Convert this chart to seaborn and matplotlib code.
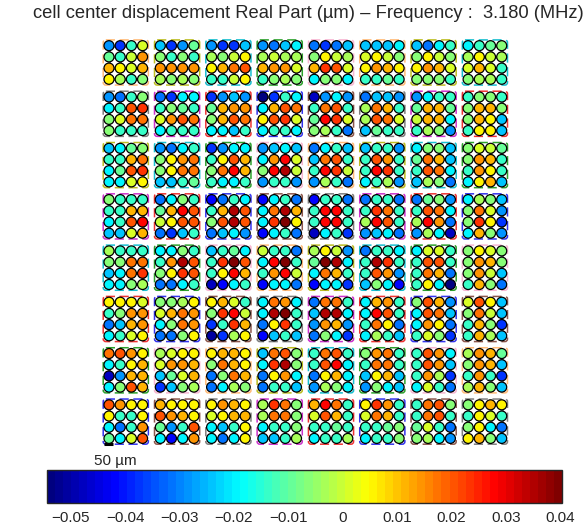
import numpy as np
import pandas as pd
import matplotlib
matplotlib.use('Agg')
import matplotlib.pyplot as plt
import seaborn as sns
from matplotlib.patches import FancyBboxPatch
from matplotlib.colors import LinearSegmentedColormap

# cell center displacement, one band per block row (4 cell rows x 32 cells)
band0 = [
    [-0.028,-0.037,-0.013,0.001, -0.024,-0.037,-0.028,-0.009, -0.028,-0.037,-0.037,-0.024, -0.028,-0.031,-0.024,-0.020, -0.031,-0.037,-0.031,-0.024, -0.024,-0.024,-0.024,-0.020, -0.024,-0.031,-0.020,-0.013, -0.020,-0.014,-0.009,-0.007],
    [-0.009,-0.014,-0.001,0.014, -0.007,-0.013,-0.007,-0.013, -0.003,-0.006,-0.001,0.005, -0.003,-0.001,-0.003,-0.003, -0.006,0.005,-0.001,-0.003, 0.001,0.005,-0.001,-0.006, -0.006,0.005,-0.001,-0.006, -0.003,0.005,-0.001,-0.003],
    [0.011,0.005,0.001,0.011, 0.014,0.014,0.014,0.014, 0.005,0.011,0.017,0.020, 0.011,0.014,0.014,0.001, 0.011,0.023,0.020,0.001, 0.005,0.014,0.011,0.005, 0.005,0.014,0.011,0.001, 0.001,0.011,0.001,-0.013],
    [0.005,-0.003,-0.013,-0.007, -0.003,-0.006,-0.003,-0.006, -0.013,-0.014,-0.001,0.005, -0.013,-0.007,-0.003,-0.007, -0.020,-0.007,-0.006,-0.020, -0.014,-0.013,-0.009,-0.013, -0.007,-0.006,-0.007,-0.014, -0.006,-0.003,-0.003,-0.013],
]
band1 = [
    [-0.028,-0.031,-0.013,-0.007, -0.031,-0.037,-0.020,-0.020, -0.037,-0.028,-0.024,-0.028, -0.054,-0.037,-0.014,-0.020, -0.047,-0.028,-0.020,-0.028, -0.031,-0.024,-0.024,-0.028, -0.028,-0.020,-0.014,-0.014, -0.014,-0.007,-0.007,-0.013],
    [-0.020,-0.014,0.020,0.023, -0.013,-0.006,-0.009,-0.013, -0.009,0.011,0.014,0.014, -0.020,0.011,0.020,0.017, -0.014,0.017,0.020,-0.013, -0.003,0.017,0.011,-0.013, -0.009,0.011,0.011,-0.009, -0.006,0.011,0.011,-0.006],
    [-0.006,0.001,0.017,0.017, 0.001,0.014,0.020,0.017, -0.006,0.011,0.020,0.017, 0.005,0.020,0.023,0.001, -0.009,0.028,0.023,0.001, -0.003,0.020,0.017,0.001, -0.001,0.011,0.011,-0.020, -0.006,0.011,0.005,-0.024],
    [-0.007,-0.013,-0.013,-0.013, -0.020,-0.013,-0.014,-0.013, -0.020,-0.020,-0.024,-0.014, -0.020,-0.013,-0.013,-0.020, -0.006,-0.003,-0.013,-0.031, -0.024,-0.009,-0.013,-0.013, -0.013,-0.003,-0.006,-0.028, -0.013,0.005,0.005,-0.024],
]
band2 = [
    [-0.024,-0.020,-0.009,-0.006, -0.028,-0.031,-0.020,-0.013, -0.037,-0.028,-0.020,-0.020, -0.028,-0.024,-0.020,-0.024, -0.031,-0.020,-0.014,-0.024, -0.024,-0.014,-0.013,-0.028, -0.020,-0.007,-0.006,-0.024, -0.007,0.001,-0.001,-0.009],
    [-0.014,-0.013,0.011,0.017, -0.006,0.005,0.014,0.017, -0.013,0.005,0.020,0.011, -0.020,0.014,0.028,0.001, -0.024,0.017,0.020,-0.013, -0.014,0.020,0.014,-0.014, -0.009,0.017,0.011,-0.024, -0.007,0.014,0.011,-0.013],
    [-0.020,-0.009,0.020,0.023, -0.007,0.005,0.017,0.017, -0.007,0.017,0.028,0.011, -0.007,0.028,0.035,-0.001, -0.013,0.028,0.023,-0.001, -0.013,0.028,0.023,-0.014, -0.013,0.020,0.017,-0.020, -0.013,0.014,0.005,-0.014],
    [-0.020,-0.020,0.001,0.005, -0.024,-0.024,-0.013,-0.009, -0.014,-0.020,-0.020,-0.014, -0.028,-0.013,-0.013,-0.028, -0.028,-0.003,-0.013,-0.031, -0.020,-0.013,-0.003,-0.028, -0.024,-0.003,-0.006,-0.031, -0.020,0.005,0.011,-0.024],
]
band3 = [
    [-0.006,-0.013,-0.013,-0.013, -0.031,-0.020,-0.006,-0.013, -0.042,-0.031,-0.014,-0.020, -0.042,-0.020,-0.013,-0.031, -0.042,-0.013,-0.013,-0.031, -0.031,-0.013,-0.014,-0.031, -0.031,-0.009,-0.007,-0.028, -0.020,-0.003,-0.006,-0.024],
    [-0.013,-0.013,0.011,0.011, -0.009,0.011,0.028,0.020, -0.014,0.011,0.035,0.020, -0.020,0.017,0.035,0.011, -0.013,0.028,0.028,-0.014, -0.013,0.023,0.017,-0.014, -0.014,0.020,0.017,-0.020, -0.006,0.017,0.001,-0.028],
    [-0.020,-0.014,0.020,0.028, -0.001,0.005,0.020,0.020, -0.006,0.020,0.035,0.020, -0.020,0.023,0.039,0.005, -0.013,0.028,0.028,-0.013, -0.003,0.028,0.020,-0.013, -0.003,0.028,0.014,-0.031, -0.006,0.023,0.005,-0.037],
    [-0.024,-0.024,0.001,0.011, -0.031,-0.037,-0.024,-0.014, -0.031,-0.024,-0.020,-0.028, -0.042,-0.020,-0.013,-0.031, -0.047,-0.020,-0.014,-0.037, -0.028,-0.024,-0.020,-0.031, -0.028,-0.003,-0.020,-0.047, -0.020,0.011,-0.006,-0.028],
]
band4 = [
    [-0.003,-0.013,-0.013,-0.013, -0.020,-0.020,-0.006,-0.013, -0.024,-0.014,-0.009,-0.020, -0.001,-0.014,-0.013,-0.031, -0.003,0.005,-0.001,-0.028, -0.031,-0.013,-0.013,-0.020, -0.020,0.001,0.001,-0.013, -0.007,0.005,0.001,-0.007],
    [-0.007,-0.006,0.017,0.017, -0.014,0.014,0.035,0.020, -0.013,0.023,0.039,0.020, -0.020,0.028,0.039,-0.013, -0.009,0.039,0.035,-0.020, -0.014,0.035,0.023,-0.013, -0.013,0.020,0.020,-0.014, -0.006,0.014,0.011,-0.007],
    [-0.024,-0.020,0.017,0.023, -0.006,0.005,0.023,0.020, -0.013,0.005,0.028,0.011, -0.013,0.014,0.028,-0.001, -0.020,0.017,0.011,-0.013, -0.013,0.020,0.014,-0.028, -0.014,0.017,0.011,-0.031, -0.007,0.014,-0.001,-0.024],
    [-0.020,-0.020,-0.006,-0.003, -0.031,-0.031,-0.020,-0.013, -0.047,-0.042,-0.020,-0.014, -0.042,-0.020,-0.020,-0.031, -0.042,-0.020,-0.020,-0.037, -0.024,-0.007,-0.020,-0.042, -0.013,0.005,-0.020,-0.054, -0.013,0.011,-0.007,-0.031],
]
band5 = [
    [0.005,0.005,0.005,0.001, -0.006,-0.007,-0.003,0.005, 0.005,0.011,0.001,-0.013, -0.020,0.017,0.014,-0.020, -0.031,0.017,0.017,-0.013, -0.020,0.011,0.014,-0.013, -0.007,0.020,0.011,-0.028, 0.001,0.020,0.005,-0.024],
    [-0.014,-0.007,0.014,0.014, 0.001,0.011,0.017,0.014, -0.007,0.023,0.028,-0.001, -0.020,0.035,0.039,-0.013, -0.024,0.035,0.035,-0.020, -0.020,0.028,0.020,-0.014, -0.020,0.020,0.017,-0.024, -0.007,0.017,-0.001,-0.024],
    [-0.031,-0.024,0.011,0.014, -0.020,-0.006,0.017,0.014, -0.037,-0.013,0.023,0.011, -0.031,0.005,0.023,-0.013, -0.028,0.014,0.011,-0.028, -0.013,0.017,0.005,-0.031, -0.020,0.014,0.005,-0.031, -0.013,0.011,-0.006,-0.037],
    [-0.020,-0.014,0.001,0.005, -0.031,-0.031,-0.006,0.005, -0.051,-0.037,-0.003,0.005, -0.042,-0.024,-0.013,-0.024, -0.031,-0.006,-0.020,-0.037, -0.020,-0.003,-0.013,-0.024, -0.013,0.001,-0.006,-0.037, -0.013,0.011,-0.003,-0.024],
]
band6 = [
    [0.017,0.020,0.014,0.005, -0.003,0.001,0.005,0.005, 0.005,0.011,0.011,0.005, -0.024,0.017,0.020,-0.006, -0.013,0.017,0.020,-0.013, -0.007,0.014,0.017,-0.014, -0.013,0.020,0.014,-0.020, -0.003,0.014,0.011,-0.009],
    [-0.020,-0.013,0.005,0.011, 0.001,0.014,0.014,0.011, -0.007,0.017,0.011,0.005, -0.020,0.023,0.035,-0.007, -0.013,0.020,0.028,-0.020, -0.014,0.017,0.017,-0.013, -0.013,0.020,0.014,-0.024, -0.007,0.014,0.011,-0.024],
    [-0.047,-0.028,0.011,0.011, -0.024,-0.009,0.001,0.011, -0.031,-0.007,0.017,0.011, -0.031,0.005,0.014,-0.020, -0.031,0.005,0.011,-0.020, -0.024,0.005,0.011,-0.024, -0.013,0.014,-0.003,-0.037, -0.013,0.014,-0.013,-0.037],
    [-0.020,-0.007,0.020,0.011, -0.037,-0.024,-0.007,-0.003, -0.031,-0.020,-0.003,-0.006, -0.031,-0.014,-0.013,-0.024, -0.028,-0.003,-0.007,-0.020, -0.028,-0.007,-0.020,-0.024, -0.020,0.001,-0.013,-0.031, -0.003,0.011,-0.007,-0.024],
]
band7 = [
    [0.020,0.014,0.005,0.005, 0.011,0.005,0.005,0.005, 0.005,0.014,0.011,0.005, -0.003,0.023,0.017,-0.006, 0.011,0.028,0.017,-0.013, 0.005,0.023,0.014,-0.013, -0.013,0.017,0.020,-0.006, -0.006,0.005,0.011,0.005],
    [0.005,-0.013,-0.013,0.005, 0.020,0.014,0.011,0.005, 0.001,0.005,0.011,0.011, -0.003,0.017,0.017,-0.006, 0.001,0.020,0.011,-0.013, 0.001,0.017,0.011,-0.013, -0.013,0.017,0.020,-0.013, -0.013,0.005,0.001,-0.014],
    [-0.020,-0.031,-0.013,0.014, -0.009,-0.028,-0.013,0.020, -0.020,-0.024,-0.013,0.005, -0.020,-0.014,-0.013,-0.007, -0.014,-0.014,-0.009,-0.013, -0.014,-0.013,-0.009,-0.007, -0.009,0.001,-0.013,-0.031, -0.006,0.005,-0.020,-0.031],
    [-0.009,-0.020,0.001,0.020, -0.020,-0.042,-0.020,0.014, -0.020,-0.031,-0.020,0.005, -0.024,-0.024,-0.013,-0.003, -0.020,-0.013,-0.014,-0.003, -0.020,-0.013,-0.014,-0.006, -0.007,-0.003,-0.020,-0.028, 0.005,0.011,-0.007,-0.024],
]
bands = [band0, band1, band2, band3, band4, band5, band6, band7]

vmin, vmax = -0.0544, 0.0404
cbar_ticks = [-0.05, -0.04, -0.03, -0.02, -0.01, 0, 0.01, 0.02, 0.03, 0.04]
cbar_labels = ['\u22120.05', '\u22120.04', '\u22120.03', '\u22120.02', '\u22120.01',
               '0', '0.01', '0.02', '0.03', '0.04']
title = 'cell center displacement Real Part (\u00b5m) \u2013 Frequency :  3.180 (MHz)'

# geometry (µm): cell pitch and block pitch
p, P = 60, 275
rows = []
for bi, band in enumerate(bands):
    for i, line in enumerate(band):
        for k, v in enumerate(line):
            bj, j = divmod(k, 4)
            rows.append((bj * P + j * p, bi * P + i * p, v))
df = pd.DataFrame(rows, columns=['x', 'y', 'val'])

sns.set_style('white')
plt.rcParams['font.family'] = ['Liberation Sans', 'DejaVu Sans']

# MATLAB style jet, 64 levels
cmap = LinearSegmentedColormap.from_list('mjet', [
    (0.0, (0, 0, 0.5)), (0.125, (0, 0, 1)), (0.375, (0, 1, 1)),
    (0.625, (1, 1, 0)), (0.875, (1, 0, 0)), (1.0, (0.5, 0, 0))]).resampled(64)

fig = plt.figure(figsize=(5.87, 5.28), dpi=100)
ax = fig.add_axes([97.8 / 587, 1 - 449.6 / 528, 415.1 / 587, 415.1 / 528])

pal_a = ['#ffbb78', '#bcbd22', '#17becf', '#2ca02c', '#f7b6d2']
pal_b = ['#7f7f7f', '#cc33cc', '#ee3333', '#3333ee', '#8c564b']
for bi in range(8):
    for bj in range(8):
        x0, y0 = bj * P, bi * P
        for t in range(4):
            ax.plot([x0, x0 + 3 * p], [y0 + t * p] * 2, color='#808080', lw=2, zorder=1)
            ax.plot([x0 + t * p] * 2, [y0, y0 + 3 * p], color='#808080', lw=2, zorder=1)
        pal = pal_a if bi % 2 == 0 else pal_b
        col = pal[(bj + bi // 2) % 5]
        ax.add_patch(FancyBboxPatch((x0 - 31, y0 - 31), 3 * p + 62, 3 * p + 62,
                                    boxstyle='round,pad=0,rounding_size=14',
                                    fill=False, ec=col, lw=1.1, ls=(0, (6, 3)), zorder=0.5))

sns.scatterplot(data=df, x='x', y='y', hue='val', palette=cmap, hue_norm=(vmin, vmax),
                s=52, edgecolor='black', linewidth=0.9, legend=False, ax=ax, zorder=3)

# scale bar 50 µm
ax.plot([-27, 23], [3 * p + 7 * P + 31] * 2, color='black', lw=2.2, solid_capstyle='butt')

ax.set_xlim(-60, 2165)
ax.set_ylim(2165, -60)
ax.axis('off')

fig.text(0.526, 1 - 13.5 / 528, title, ha='center', va='center', fontsize=13.2)
fig.text(115 / 587, 1 - 461 / 528, '50 \u00b5m', ha='center', va='center', fontsize=11)

cax = fig.add_axes([46.7 / 587, (528 - 502.7) / 528, 515.6 / 587, 32.7 / 528])
sm = plt.cm.ScalarMappable(norm=plt.Normalize(vmin, vmax), cmap=cmap)
cb = fig.colorbar(sm, cax=cax, orientation='horizontal')
cb.set_ticks(cbar_ticks)
cb.set_ticklabels(cbar_labels)
cax.tick_params(direction='in', length=4, width=0.8, top=True, bottom=True,
                labelsize=11, pad=6)
cb.outline.set_linewidth(1)

fig.savefig('out.png', dpi=100)
